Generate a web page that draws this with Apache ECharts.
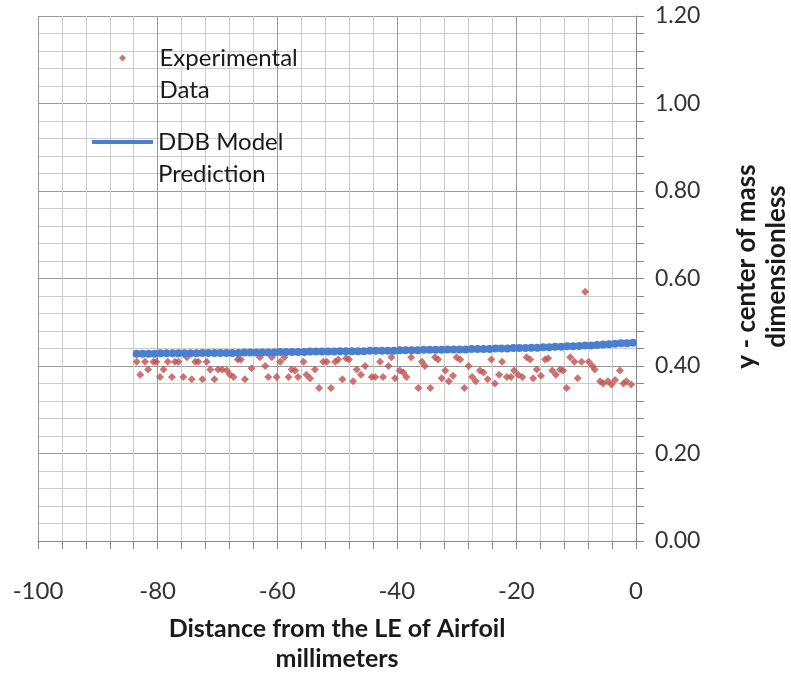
<!DOCTYPE html>
<html>
<head>
<meta charset="utf-8">
<script src="https://cdn.jsdelivr.net/npm/echarts@6/dist/echarts.min.js"></script>
<style>
  html, body { margin: 0; padding: 0; background: #fff; }
  #chart { width: 791px; height: 674px; }
</style>
</head>
<body>
<div id="chart"></div>
<script>
  // experimental points (mm, dimensionless)
  var expX = [-83.5, -82.9, -82.1, -81.6, -80.7, -80.2, -79.6, -79.0, -78.3, -77.6, -77.1, -76.5, -75.7, -75.1, -74.3,
    -73.7, -73.2, -72.5, -71.8, -71.2, -70.5, -69.9, -69.2, -68.4, -67.9, -67.3, -66.6, -66.1, -65.4, -64.3,
    -62.9, -62.0, -61.5, -60.9, -60.1, -59.5, -58.8, -58.1, -57.6, -57.0, -56.5, -55.6, -55.1, -54.5, -53.7,
    -53.0, -52.3, -51.7, -51.0, -50.3, -49.8, -49.1, -48.5, -48.0, -47.3, -46.7, -46.0, -45.3, -44.2, -43.6,
    -42.8, -42.3, -41.4, -40.9, -40.3, -39.5, -38.9, -38.4, -37.6, -36.4, -35.8, -35.3, -34.4, -33.6, -33.1,
    -32.5, -31.9, -31.3, -30.6, -30.0, -29.4, -28.7, -28.0, -27.4, -26.8, -26.1, -25.5, -24.8, -24.2, -23.6,
    -22.9, -22.4, -21.6, -20.9, -20.4, -19.7, -19.0, -18.3, -17.7, -17.2, -16.6, -15.9, -15.2, -14.7, -14.0,
    -13.4, -12.7, -12.2, -11.6, -11.0, -10.3, -9.75, -9.1, -8.5, -7.9, -7.3, -6.9, -6.0, -5.5, -4.7,
    -4.1, -3.5, -2.7, -2.1, -1.6, -0.8];
  var expY = [0.41, 0.38, 0.41, 0.392, 0.41, 0.41, 0.375, 0.392, 0.41, 0.375, 0.41, 0.41, 0.375, 0.42, 0.37,
    0.41, 0.41, 0.37, 0.41, 0.392, 0.37, 0.392, 0.392, 0.39, 0.38, 0.375, 0.415, 0.415, 0.37, 0.395,
    0.42, 0.40, 0.375, 0.42, 0.375, 0.41, 0.42, 0.375, 0.392, 0.39, 0.375, 0.41, 0.38, 0.372, 0.392,
    0.35, 0.41, 0.41, 0.35, 0.41, 0.415, 0.37, 0.418, 0.415, 0.365, 0.392, 0.38, 0.40, 0.375, 0.375,
    0.41, 0.375, 0.40, 0.42, 0.372, 0.39, 0.385, 0.375, 0.42, 0.35, 0.41, 0.40, 0.35, 0.42, 0.415,
    0.372, 0.39, 0.365, 0.378, 0.42, 0.415, 0.35, 0.40, 0.375, 0.365, 0.39, 0.385, 0.37, 0.415, 0.36,
    0.38, 0.41, 0.375, 0.375, 0.39, 0.38, 0.375, 0.42, 0.415, 0.372, 0.392, 0.378, 0.415, 0.418, 0.39,
    0.38, 0.392, 0.39, 0.35, 0.42, 0.41, 0.372, 0.41, 0.57, 0.41, 0.40, 0.392, 0.365, 0.36, 0.365,
    0.358, 0.368, 0.39, 0.36, 0.365, 0.358];

  // DDB model prediction
  var modelX = [-83.5, -82.5, -81.5, -80.5, -79.5, -78.5, -77.5, -76.5, -75.5, -74.5, -73.5, -72.5, -71.5, -70.5,
    -69.5, -68.5, -67.5, -66.5, -65.5, -64.5, -63.5, -62.5, -61.5, -60.5,
    -59.5, -58.5, -57.5, -56.5, -55.5, -54.5, -53.5, -52.5, -51.5, -50.5,
    -49.5, -48.5, -47.5, -46.5, -45.5, -44.5, -43.5, -42.5, -41.5, -40.5,
    -39.5, -38.5, -37.5, -36.5, -35.5, -34.5, -33.5, -32.5, -31.5, -30.5,
    -29.5, -28.5, -27.5, -26.5, -25.5, -24.5, -23.5, -22.5, -21.5, -20.5,
    -19.5, -18.5, -17.5, -16.5, -15.5, -14.5, -13.5, -12.5, -11.5, -10.5,
    -9.5, -8.5, -7.5, -6.5, -5.5, -4.5, -3.5, -2.5, -1.5, -0.5];
  var modelY = [0.428, 0.428, 0.428, 0.428, 0.429, 0.429, 0.429, 0.429, 0.429, 0.429, 0.429, 0.430, 0.430, 0.430,
    0.430, 0.430, 0.430, 0.430, 0.431, 0.431, 0.431, 0.431, 0.431, 0.431,
    0.432, 0.432, 0.432, 0.432, 0.432, 0.433, 0.433, 0.433, 0.433, 0.433,
    0.434, 0.434, 0.434, 0.434, 0.434, 0.435, 0.435, 0.435, 0.435, 0.435,
    0.436, 0.436, 0.436, 0.436, 0.437, 0.437, 0.437, 0.437, 0.438, 0.438,
    0.438, 0.438, 0.439, 0.439, 0.439, 0.439, 0.440, 0.440, 0.440, 0.441,
    0.441, 0.441, 0.442, 0.442, 0.443, 0.443, 0.444, 0.444, 0.445, 0.445,
    0.446, 0.447, 0.447, 0.448, 0.449, 0.450, 0.451, 0.452, 0.452, 0.453];

  var xTicks = [-100, -80, -60, -40, -20, 0];
  var yTicks = [0, 0.2, 0.4, 0.6, 0.8, 1.0, 1.2];

  var diamond = 'path://M0,-1L1,0L0,1L-1,0Z';
  var font = 'Lato';

  function pairs(xs, ys) {
    var out = [];
    for (var i = 0; i < xs.length; i++) out.push([xs[i], ys[i]]);
    return out;
  }

  var legendText = { fontFamily: font, fontSize: 24, lineHeight: 32, color: '#1a1a1a' };

  var chart = echarts.init(document.getElementById('chart'));
  chart.setOption({
    animation: false,
    backgroundColor: '#fff',
    grid: { left: 38, right: 155, top: 16, bottom: 133, containLabel: false, outerBoundsMode: 'none' },
    legend: [{
      // leading blank line keeps the first text line level with the icon
      data: [{ name: 'Experimental Data', icon: diamond }],
      left: 119, top: 10, padding: 0,
      itemWidth: 64, itemHeight: 7,
      selectedMode: false,
      formatter: function () { return ' \nExperimental\nData'; },
      textStyle: legendText
    }, {
      data: [{ name: 'DDB Model Prediction', icon: 'rect' }],
      left: 92, top: 94, padding: 0,
      itemWidth: 61, itemHeight: 4,
      selectedMode: false,
      formatter: function () { return ' \nDDB Model\nPrediction'; },
      textStyle: legendText
    }],
    xAxis: {
      type: 'value',
      min: xTicks[0], max: xTicks[xTicks.length - 1], interval: 20,
      name: 'Distance from the LE of Airfoil\nmillimeters',
      nameLocation: 'middle', nameGap: 73,
      nameTextStyle: { fontFamily: font, fontSize: 25, fontWeight: 'bold', lineHeight: 30, color: '#1a1a1a' },
      axisLine: { onZero: false, lineStyle: { color: '#888', width: 1 } },
      axisTick: { show: true, length: 8, lineStyle: { color: '#888' } },
      minorTick: { show: true, splitNumber: 5, length: 8, lineStyle: { color: '#888' } },
      splitLine: { show: true, lineStyle: { color: '#9a9a9a', width: 1 } },
      minorSplitLine: { show: true, lineStyle: { color: '#cccccc', width: 1 } },
      axisLabel: { margin: 38, fontFamily: font, fontSize: 24, color: '#333' }
    },
    yAxis: {
      type: 'value',
      position: 'right',
      min: yTicks[0], max: yTicks[yTicks.length - 1], interval: 0.2,
      name: 'y - center of mass\ndimensionless',
      nameLocation: 'middle', nameGap: 96,
      nameTextStyle: { fontFamily: font, fontSize: 26, fontWeight: 'bold', lineHeight: 30, color: '#1a1a1a', padding: [0, 0, 0, 24] },
      axisLine: { show: true, onZero: false, lineStyle: { color: '#888', width: 1 } },
      axisTick: { show: true, length: 8, lineStyle: { color: '#888' } },
      minorTick: { show: true, splitNumber: 5, length: 8, lineStyle: { color: '#888' } },
      splitLine: { show: true, lineStyle: { color: '#9a9a9a', width: 1 } },
      minorSplitLine: { show: true, lineStyle: { color: '#cccccc', width: 1 } },
      axisLabel: {
        margin: 19, fontFamily: font, fontSize: 23, color: '#333',
        formatter: function (v) { return v.toFixed(2); }
      }
    },
    series: [{
      name: 'Experimental Data',
      type: 'scatter',
      symbol: diamond,
      symbolSize: 8,
      itemStyle: { color: '#c0504d' },
      data: pairs(expX, expY)
    }, {
      name: 'DDB Model Prediction',
      type: 'line',
      symbol: 'circle',
      symbolSize: 8,
      showSymbol: true,
      lineStyle: { width: 5, color: '#4a7fcf' },
      itemStyle: { color: '#4a7fcf' },
      data: pairs(modelX, modelY)
    }]
  });
</script>
</body>
</html>
